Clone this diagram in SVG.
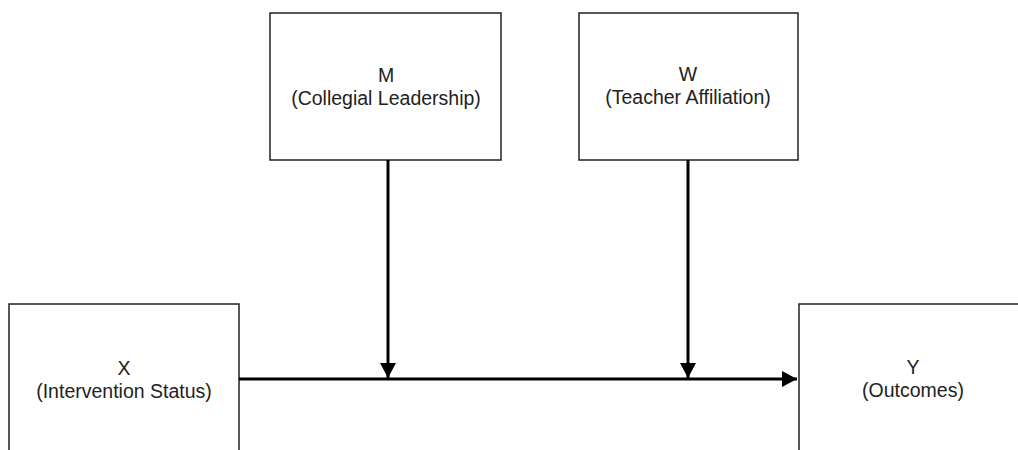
<svg xmlns="http://www.w3.org/2000/svg" width="1018" height="450" viewBox="0 0 1018 450">
<style>
.box{fill:#fff;stroke:#222;stroke-width:1.5}
.lbl{font-family:"Liberation Sans",Arial,sans-serif;font-size:19.5px;fill:#222;text-anchor:middle}
.edge{stroke:#000;stroke-width:3;fill:none}
</style>
<defs>
<marker id="ah" markerUnits="userSpaceOnUse" markerWidth="16" markerHeight="16" refX="15" refY="8" orient="auto">
<path d="M0,0 L15,8 L0,16 z" fill="#000"/>
</marker>
</defs>
<rect width="1018" height="450" fill="#fff"/>
<g id="node-M">
<rect class="box" x="270" y="13" width="231" height="147"/>
<text class="lbl" x="386" y="82">M</text>
<text class="lbl" x="386" y="105">(Collegial Leadership)</text>
</g>
<g id="node-W">
<rect class="box" x="579" y="13" width="219" height="147"/>
<text class="lbl" x="688" y="81">W</text>
<text class="lbl" x="688" y="104">(Teacher Affiliation)</text>
</g>
<g id="node-X">
<rect class="box" x="9" y="304" width="230" height="160"/>
<text class="lbl" x="124" y="375">X</text>
<text class="lbl" x="124" y="398">(Intervention Status)</text>
</g>
<g id="node-Y">
<rect class="box" x="799" y="304" width="230" height="160"/>
<text class="lbl" x="913" y="374">Y</text>
<text class="lbl" x="913" y="397">(Outcomes)</text>
</g>
<g id="connectors">
<line class="edge" x1="239" y1="379" x2="797" y2="379" marker-end="url(#ah)"/>
<line class="edge" x1="388" y1="160" x2="388" y2="378" marker-end="url(#ah)"/>
<line class="edge" x1="688" y1="160" x2="688" y2="378" marker-end="url(#ah)"/>
</g>
</svg>
